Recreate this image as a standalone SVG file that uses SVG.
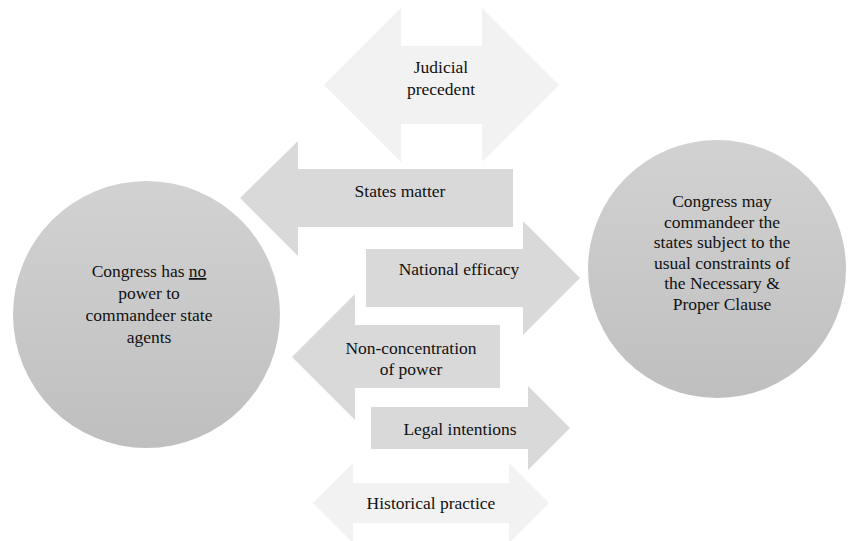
<svg xmlns="http://www.w3.org/2000/svg" width="849" height="541" viewBox="0 0 849 541">
<defs>
<linearGradient id="cg" x1="0" y1="0" x2="0" y2="1">
<stop offset="0" stop-color="#d2d2d2"/>
<stop offset="1" stop-color="#bfbfbf"/>
</linearGradient>
<style>
text{font-family:'Liberation Serif',Tinos,'Noto Serif','DejaVu Serif',FreeSerif,'Nimbus Roman','Times New Roman',Times,Georgia,serif;font-size:17.5px;fill:#111;text-anchor:middle}
.light{fill:#f2f2f2}
.mid{fill:#d9d9d9}
.circ{fill:url(#cg)}
</style>
</defs>
<rect width="849" height="541" fill="#ffffff"/>
<g id="connectors">
<g id="judicial">
<polygon class="light" points="324,85 401,8 401,46 482,46 482,8 559,85 482,162 482,124 401,124 401,162"/>
<text x="441" y="73">Judicial</text>
<text x="441" y="95">precedent</text>
</g>
<g id="states-matter">
<polygon class="mid" points="240,198 298,141 298,169 513,169 513,227 298,227 298,256"/>
<text x="400" y="197">States matter</text>
</g>
<g id="national-efficacy">
<polygon class="mid" points="580,278 523,221 523,249 366,249 366,307 523,307 523,335"/>
<text x="459" y="275">National efficacy</text>
</g>
<g id="non-concentration">
<polygon class="mid" points="292,357 355,294 355,325 500,325 500,388 355,388 355,420"/>
<text x="411" y="354">Non-concentration</text>
<text x="411" y="375">of power</text>
</g>
<g id="legal-intentions">
<polygon class="mid" points="570,428 528,386 528,407 371,407 371,449 528,449 528,470"/>
<text x="460" y="435">Legal intentions</text>
</g>
<g id="historical-practice">
<polygon class="light" points="313,503 353,463 353,483 509,483 509,463 549,503 509,543 509,523 353,523 353,543"/>
<text x="431" y="509">Historical practice</text>
</g>
</g>
<g id="node-no-power">
<circle class="circ" cx="146.5" cy="314.5" r="133.5"/>
<text x="149" y="277">Congress has <tspan text-decoration="underline">no</tspan></text>
<text x="149" y="299">power to</text>
<text x="149" y="321">commandeer state</text>
<text x="149" y="343">agents</text>
</g>
<g id="node-may-commandeer">
<circle class="circ" cx="717" cy="269" r="129"/>
<text x="722" y="207">Congress may</text>
<text x="722" y="227.5">commandeer the</text>
<text x="722" y="248">states subject to the</text>
<text x="722" y="268.5">usual constraints of</text>
<text x="722" y="289">the Necessary &amp;</text>
<text x="722" y="309.5">Proper Clause</text>
</g>
</svg>
